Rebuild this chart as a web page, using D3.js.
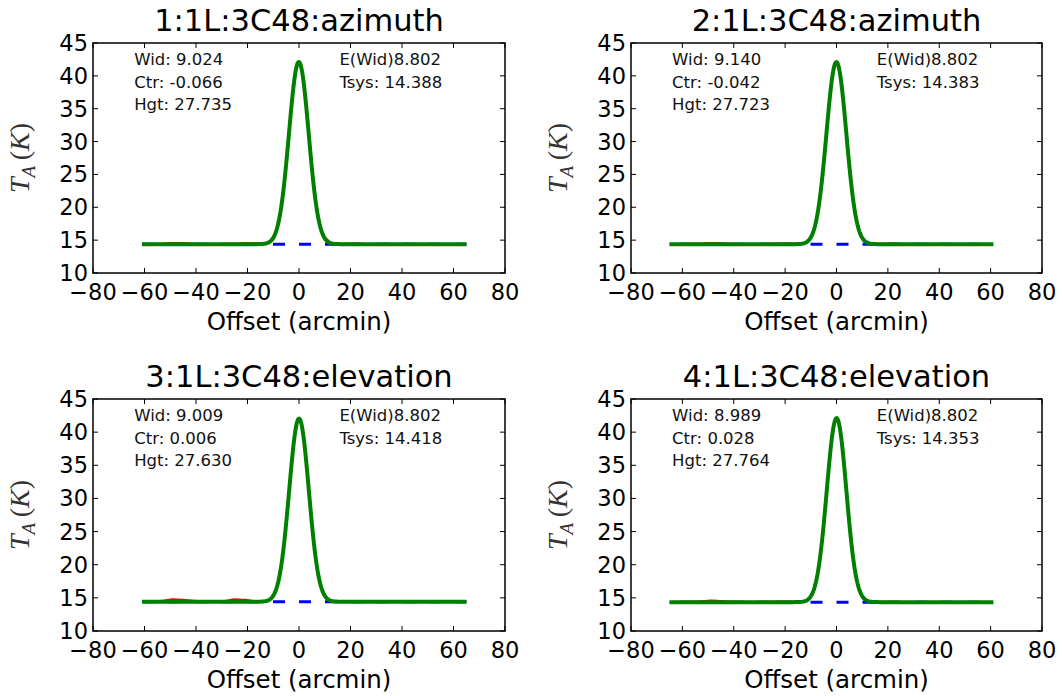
<!DOCTYPE html>
<html>
<head>
<meta charset="utf-8">
<script src="https://cdn.jsdelivr.net/npm/d3@7"></script>
<style>
  body { margin: 0; background: #fff; }
  svg { display: block; }
</style>
</head>
<body>
<script>
// Four drift scans across 3C48 (1L receiver): two azimuth, two elevation.
const titles = ["1:1L:3C48:azimuth", "2:1L:3C48:azimuth", "3:1L:3C48:elevation", "4:1L:3C48:elevation"];

// Gaussian fit results per scan (arcmin, K)
const fitWidth  = [9.024, 9.140, 9.009, 8.989];
const fitCenter = [-0.066, -0.042, 0.006, 0.028];
const fitHeight = [27.735, 27.723, 27.630, 27.764];
const tsys      = [14.388, 14.383, 14.418, 14.353];
const expectedWidth = 8.802;

// Sampled scan offsets (arcmin)
const offsetsA = [-61, -57, -53, -49, -45, -41, -37, -33, -29, -25, -21, -17, -14, -12, -10, -8, -6, -4, -2, -1, 0, 1, 2, 4, 6, 8, 10, 12, 14, 17, 21, 25, 29, 33, 37, 41, 45, 49, 53, 57, 61, 65];
const offsetsB = [-65, -61, -57, -53, -49, -45, -41, -37, -33, -29, -25, -21, -17, -14, -12, -10, -8, -6, -4, -2, -1, 0, 1, 2, 4, 6, 8, 10, 12, 14, 17, 21, 25, 29, 33, 37, 41, 45, 49, 53, 57, 61];

// Measured antenna temperature T_A (K) along each scan
const scan1 = [14.42, 14.40, 14.45, 14.58, 14.55, 14.42, 14.40, 14.38, 14.43, 14.47, 14.55, 14.48, 14.45, 14.68, 15.45, 17.60, 22.60, 30.70, 38.80, 41.30, 42.00, 41.10, 38.40, 30.30, 22.50, 17.60, 15.50, 14.75, 14.48, 14.45, 14.50, 14.42, 14.38, 14.36, 14.35, 14.33, 14.34, 14.30, 14.32, 14.28, 14.30, 14.29];
const scan2 = [14.40, 14.42, 14.44, 14.50, 14.58, 14.52, 14.44, 14.40, 14.38, 14.42, 14.45, 14.50, 14.46, 14.45, 14.68, 15.50, 17.75, 22.80, 30.80, 38.80, 41.20, 42.00, 41.10, 38.50, 30.55, 22.75, 17.70, 15.45, 14.68, 14.46, 14.45, 14.48, 14.42, 14.38, 14.36, 14.34, 14.33, 14.30, 14.32, 14.30, 14.28, 14.30];
const scan3 = [14.45, 14.50, 14.55, 14.78, 14.70, 14.55, 14.48, 14.46, 14.52, 14.80, 14.70, 14.50, 14.40, 14.62, 15.35, 17.45, 22.40, 30.30, 38.45, 41.10, 41.95, 41.15, 38.60, 30.55, 22.65, 17.65, 15.45, 14.70, 14.48, 14.46, 14.45, 14.47, 14.44, 14.42, 14.43, 14.40, 14.42, 14.40, 14.38, 14.40, 14.37, 14.38];
const scan4 = [14.38, 14.40, 14.42, 14.48, 14.60, 14.52, 14.45, 14.40, 14.38, 14.40, 14.43, 14.47, 14.42, 14.40, 14.60, 15.30, 17.40, 22.35, 30.25, 38.45, 41.10, 42.00, 41.20, 38.65, 30.55, 22.55, 17.55, 15.35, 14.62, 14.42, 14.40, 14.42, 14.38, 14.36, 14.34, 14.35, 14.33, 14.32, 14.30, 14.32, 14.30, 14.31];

const scanOffsets = [offsetsA, offsetsB, offsetsA, offsetsB];
const scanValues = [scan1, scan2, scan3, scan4];

const xTicks = [-80, -60, -40, -20, 0, 20, 40, 60, 80];
const yTicks = [10, 15, 20, 25, 30, 35, 40, 45];
const xDomain = [-80, 80];
const yDomain = [10, 45];

// ---- layout ----
const W = 1063, H = 696;
const frames = [
  { x0: 93,  x1: 505,  y0: 43,  y1: 273 },
  { x0: 631, x1: 1042, y0: 43,  y1: 273 },
  { x0: 93,  x1: 505,  y0: 399, y1: 631 },
  { x0: 631, x1: 1042, y0: 399, y1: 631 }
];
const SANS = "'DejaVu Sans', sans-serif";
const SERIF = "'Liberation Serif', 'DejaVu Serif', serif";
const fmt = v => (v < 0 ? "\u2212" + Math.abs(v) : String(v));
const FWHM_TO_SIGMA = 1 / (2 * Math.sqrt(2 * Math.log(2)));

const svg = d3.select("body").append("svg")
  .attr("width", W).attr("height", H)
  .attr("viewBox", `0 0 ${W} ${H}`);

frames.forEach((f, i) => {
  const x = d3.scaleLinear().domain(xDomain).range([f.x0, f.x1]);
  const y = d3.scaleLinear().domain(yDomain).range([f.y1, f.y0]);
  const g = svg.append("g");

  const clipId = "clip" + i;
  svg.append("clipPath").attr("id", clipId)
    .append("rect").attr("x", f.x0).attr("y", f.y0)
    .attr("width", f.x1 - f.x0).attr("height", f.y1 - f.y0);

  const plot = g.append("g").attr("clip-path", `url(#${clipId})`);
  const offs = scanOffsets[i];
  const vals = scanValues[i];
  const xMin = d3.min(offs), xMax = d3.max(offs);

  // Fitted baseline (Tsys), dashed blue, phased so a dash starts at zero offset
  const dashLen = 12, gapLen = 14, period = dashLen + gapLen;
  const lead = x(0) - x(xMin);
  const phase = (period - (lead % period)) % period;
  plot.append("path")
    .datum([xMin, xMax])
    .attr("d", d3.line().x(d => x(d)).y(() => y(tsys[i])))
    .attr("fill", "none")
    .attr("stroke", "#0000ff")
    .attr("stroke-width", 3)
    .attr("stroke-dasharray", `${dashLen},${gapLen}`)
    .attr("stroke-dashoffset", phase);

  // Measured scan, red
  const pts = offs.map((o, k) => [o, vals[k]]);
  plot.append("path")
    .datum(pts)
    .attr("d", d3.line().curve(d3.curveMonotoneX).x(d => x(d[0])).y(d => y(d[1])))
    .attr("fill", "none")
    .attr("stroke", "#ff0000")
    .attr("stroke-width", 2);

  // Gaussian fit on Tsys, green
  const sigma = fitWidth[i] * FWHM_TO_SIGMA;
  const model = d3.range(xMin, xMax + 1e-6, 0.25).map(o =>
    [o, tsys[i] + fitHeight[i] * Math.exp(-((o - fitCenter[i]) ** 2) / (2 * sigma * sigma))]);
  plot.append("path")
    .datum(model)
    .attr("d", d3.line().x(d => x(d[0])).y(d => y(d[1])))
    .attr("fill", "none")
    .attr("stroke", "#008000")
    .attr("stroke-width", 4)
    .attr("stroke-linejoin", "round")
    .attr("stroke-linecap", "butt");

  // Inward ticks on all four sides
  const tk = 5;
  const ticks = g.append("g").attr("stroke", "#000").attr("stroke-width", 1);
  xTicks.forEach(t => {
    ticks.append("line").attr("x1", x(t)).attr("x2", x(t)).attr("y1", f.y1).attr("y2", f.y1 - tk);
    ticks.append("line").attr("x1", x(t)).attr("x2", x(t)).attr("y1", f.y0).attr("y2", f.y0 + tk);
  });
  yTicks.forEach(t => {
    ticks.append("line").attr("y1", y(t)).attr("y2", y(t)).attr("x1", f.x0).attr("x2", f.x0 + tk);
    ticks.append("line").attr("y1", y(t)).attr("y2", y(t)).attr("x1", f.x1).attr("x2", f.x1 - tk);
  });

  // Frame
  g.append("rect")
    .attr("x", f.x0).attr("y", f.y0)
    .attr("width", f.x1 - f.x0).attr("height", f.y1 - f.y0)
    .attr("fill", "none").attr("stroke", "#000").attr("stroke-width", 1.5);

  // Tick labels
  g.append("g").selectAll("text").data(xTicks).join("text")
    .attr("x", d => x(d)).attr("y", f.y1 + 27)
    .attr("text-anchor", "middle")
    .style("font-family", SANS).style("font-size", "22.5px").attr("fill", "#000")
    .text(fmt);
  g.append("g").selectAll("text").data(yTicks).join("text")
    .attr("x", f.x0 - 5).attr("y", d => y(d) + 8)
    .attr("text-anchor", "end")
    .style("font-family", SANS).style("font-size", "22.5px").attr("fill", "#000")
    .text(fmt);

  // Title
  g.append("text")
    .attr("x", (f.x0 + f.x1) / 2).attr("y", f.y0 - 12)
    .attr("text-anchor", "middle")
    .style("font-family", SANS).style("font-size", "30.5px").attr("fill", "#000")
    .text(titles[i]);

  // X axis label
  g.append("text")
    .attr("x", (f.x0 + f.x1) / 2).attr("y", f.y1 + 57)
    .attr("text-anchor", "middle")
    .style("font-family", SANS).style("font-size", "24.5px").attr("fill", "#000")
    .text("Offset (arcmin)");

  // Y axis label: T_A (K)
  const ly = g.append("text")
    .attr("transform", `translate(${f.x0 - 64},${(f.y0 + f.y1) / 2}) rotate(-90)`)
    .attr("text-anchor", "middle")
    .style("font-family", SERIF).style("font-size", "28px").attr("fill", "#333");
  ly.append("tspan").style("font-style", "italic").text("T");
  ly.append("tspan").style("font-style", "italic").style("font-size", "19px")
    .attr("dy", 6).text("A");
  ly.append("tspan").attr("dy", -6).text("\u2009(");
  ly.append("tspan").style("font-style", "italic").text("K");
  ly.append("tspan").text(")");

  // Fit annotations
  const w = f.x1 - f.x0;
  const ann = g.append("g").style("font-family", SANS).style("font-size", "16.5px").attr("fill", "#111");
  const leftCol = [
    "Wid: " + fitWidth[i].toFixed(3),
    "Ctr: " + (fitCenter[i] < 0 ? "-" : "") + Math.abs(fitCenter[i]).toFixed(3),
    "Hgt: " + fitHeight[i].toFixed(3)
  ];
  const rightCol = [
    "E(Wid)" + expectedWidth.toFixed(3),
    "Tsys: " + tsys[i].toFixed(3)
  ];
  leftCol.forEach((s, k) => ann.append("text")
    .attr("x", f.x0 + 0.10 * w).attr("y", f.y0 + 22 + k * 22.5).text(s));
  rightCol.forEach((s, k) => ann.append("text")
    .attr("x", f.x0 + 0.598 * w).attr("y", f.y0 + 22 + k * 22.5).text(s));
});
</script>
</body>
</html>
